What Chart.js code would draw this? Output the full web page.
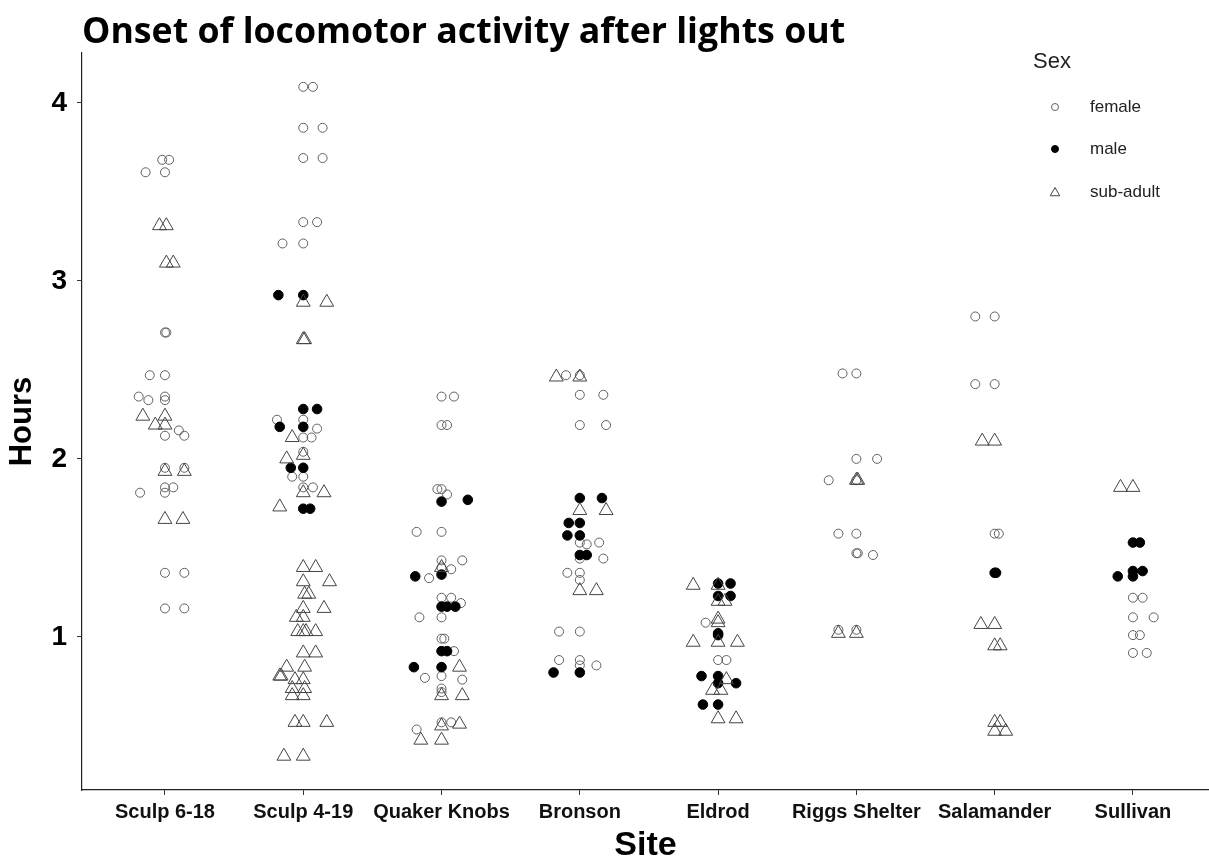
<!DOCTYPE html>
<html>
<head>
<meta charset="utf-8">
<script src="https://cdn.jsdelivr.net/npm/chart.js@4.4.1/dist/chart.umd.min.js"></script>
<style>
  html, body { margin: 0; padding: 0; background: #fff; }
  #wrap { width: 1209px; height: 859px; position: relative; }
</style>
</head>
<body>
<div id="wrap"><canvas id="chart"></canvas></div>
<script>
// sites on the x axis (1..8) and y ticks
const sites = ['Sculp 6-18', 'Sculp 4-19', 'Quaker Knobs', 'Bronson', 'Eldrod', 'Riggs Shelter', 'Salamander', 'Sullivan'];
const hourTicks = [1, 2, 3, 4];

// [site, jitter, hours]
const female = [
  [1, -0.02, 3.68], [1, 0.03, 3.68], [1, -0.14, 3.61], [1, 0, 3.61], [1, 0, 2.71], [1, 0.01, 2.71],
  [1, -0.11, 2.47], [1, 0, 2.47], [1, -0.19, 2.35], [1, 0, 2.35], [1, -0.12, 2.33], [1, 0, 2.33],
  [1, 0.10, 2.16], [1, 0.14, 2.13], [1, 0, 2.13], [1, 0, 1.95], [1, 0.14, 1.95], [1, 0, 1.84],
  [1, 0.06, 1.84], [1, -0.18, 1.81], [1, 0, 1.81], [1, 0, 1.36], [1, 0.14, 1.36], [1, 0, 1.16], [1, 0.14, 1.16],
  [2, 0, 4.09], [2, 0.07, 4.09], [2, 0, 3.86], [2, 0.14, 3.86], [2, 0, 3.69], [2, 0.14, 3.69],
  [2, 0, 3.33], [2, 0.10, 3.33], [2, -0.15, 3.21], [2, 0, 3.21], [2, -0.19, 2.22], [2, 0, 2.22],
  [2, 0.10, 2.17], [2, 0, 2.12], [2, 0.06, 2.12], [2, 0, 2.04], [2, -0.08, 1.90], [2, 0, 1.90],
  [2, 0, 1.84], [2, 0.07, 1.84],
  [3, 0, 2.35], [3, 0.09, 2.35], [3, 0, 2.19], [3, 0.04, 2.19], [3, -0.03, 1.83], [3, 0, 1.83],
  [3, 0.04, 1.80], [3, -0.18, 1.59], [3, 0, 1.59], [3, 0, 1.43], [3, 0.15, 1.43], [3, 0, 1.39],
  [3, 0.07, 1.38], [3, -0.09, 1.33], [3, 0, 1.22], [3, 0.07, 1.22], [3, 0.14, 1.19], [3, -0.16, 1.11],
  [3, 0, 1.11], [3, 0, 0.99], [3, 0.02, 0.99], [3, 0.09, 0.92], [3, 0, 0.78], [3, -0.12, 0.77],
  [3, 0.15, 0.76], [3, 0, 0.71], [3, 0, 0.69], [3, 0, 0.52], [3, 0.07, 0.52], [3, -0.18, 0.48],
  [4, -0.10, 2.47], [4, 0, 2.47], [4, 0, 2.36], [4, 0.17, 2.36], [4, 0, 2.19], [4, 0.19, 2.19],
  [4, 0, 1.53], [4, 0.14, 1.53], [4, 0.05, 1.52], [4, 0, 1.44], [4, 0.17, 1.44], [4, -0.09, 1.36],
  [4, 0, 1.36], [4, 0, 1.32], [4, -0.15, 1.03], [4, 0, 1.03], [4, -0.15, 0.87], [4, 0, 0.87],
  [4, 0, 0.84], [4, 0.12, 0.84],
  [5, -0.09, 1.08], [5, 0, 0.87], [5, 0.06, 0.87],
  [6, -0.10, 2.48], [6, 0, 2.48], [6, 0, 2.00], [6, 0.15, 2.00], [6, -0.20, 1.88], [6, 0, 1.88],
  [6, -0.13, 1.58], [6, 0, 1.58], [6, 0, 1.47], [6, 0.01, 1.47], [6, 0.12, 1.46], [6, -0.13, 1.04], [6, 0, 1.04],
  [7, -0.14, 2.80], [7, 0, 2.80], [7, -0.14, 2.42], [7, 0, 2.42], [7, 0, 1.58], [7, 0.03, 1.58],
  [8, 0, 1.22], [8, 0.07, 1.22], [8, 0, 1.11], [8, 0.15, 1.11], [8, 0, 1.01], [8, 0.05, 1.01],
  [8, 0, 0.91], [8, 0.10, 0.91]
];

const male = [
  [2, -0.18, 2.92], [2, 0, 2.92], [2, 0, 2.28], [2, 0.10, 2.28], [2, -0.17, 2.18], [2, 0, 2.18],
  [2, -0.09, 1.95], [2, 0, 1.95], [2, 0, 1.72], [2, 0.05, 1.72],
  [3, 0, 1.76], [3, 0.19, 1.77], [3, 0, 1.35], [3, -0.19, 1.34], [3, 0, 1.17], [3, 0.04, 1.17],
  [3, 0.10, 1.17], [3, 0, 0.92], [3, 0.04, 0.92], [3, -0.20, 0.83], [3, 0, 0.83],
  [4, 0, 1.78], [4, 0.16, 1.78], [4, -0.08, 1.64], [4, 0, 1.64], [4, -0.09, 1.57], [4, 0, 1.57],
  [4, 0, 1.46], [4, 0.05, 1.46], [4, -0.19, 0.80], [4, 0, 0.80],
  [5, 0, 1.30], [5, 0.09, 1.30], [5, 0, 1.23], [5, 0.09, 1.23], [5, 0, 1.02], [5, 0, 1.01],
  [5, -0.12, 0.78], [5, 0, 0.78], [5, 0, 0.74], [5, 0.13, 0.74], [5, -0.11, 0.62], [5, 0, 0.62],
  [7, 0, 1.36], [7, 0.01, 1.36],
  [8, 0, 1.53], [8, 0.05, 1.53], [8, 0, 1.37], [8, 0.07, 1.37], [8, -0.11, 1.34], [8, 0, 1.34]
];

const subAdult = [
  [1, -0.04, 3.31], [1, 0.01, 3.31], [1, 0.01, 3.10], [1, 0.06, 3.10], [1, -0.16, 2.24], [1, 0, 2.24],
  [1, -0.07, 2.19], [1, 0, 2.19], [1, 0, 1.93], [1, 0.14, 1.93], [1, 0, 1.66], [1, 0.13, 1.66],
  [2, 0, 2.88], [2, 0.17, 2.88], [2, 0, 2.67], [2, 0.01, 2.67], [2, -0.08, 2.12], [2, -0.12, 2.00],
  [2, 0, 2.02], [2, 0, 1.81], [2, 0.15, 1.81], [2, -0.17, 1.73], [2, 0, 1.39], [2, 0.09, 1.39],
  [2, 0, 1.31], [2, 0.19, 1.31], [2, 0.01, 1.24], [2, 0.04, 1.24], [2, 0, 1.16], [2, 0.15, 1.16],
  [2, -0.05, 1.11], [2, 0, 1.11], [2, -0.04, 1.03], [2, 0, 1.03], [2, 0.02, 1.03], [2, 0.09, 1.03],
  [2, 0, 0.91], [2, 0.09, 0.91], [2, -0.12, 0.83], [2, 0.01, 0.83], [2, -0.17, 0.78], [2, -0.16, 0.78],
  [2, -0.06, 0.76], [2, 0, 0.76], [2, -0.08, 0.71], [2, 0.01, 0.71], [2, -0.08, 0.67], [2, 0, 0.67],
  [2, -0.06, 0.52], [2, 0, 0.52], [2, 0.17, 0.52], [2, -0.14, 0.33], [2, 0, 0.33],
  [3, 0, 1.39], [3, 0.13, 0.83], [3, 0, 0.67], [3, 0.15, 0.67], [3, 0, 0.50], [3, 0.13, 0.51],
  [3, -0.15, 0.42], [3, 0, 0.42],
  [4, -0.17, 2.46], [4, 0, 2.46], [4, 0, 1.71], [4, 0.19, 1.71], [4, 0, 1.26], [4, 0.12, 1.26],
  [5, -0.18, 1.29], [5, 0, 1.29], [5, 0, 1.20], [5, 0.05, 1.20], [5, 0, 1.08], [5, 0, 1.10],
  [5, -0.18, 0.97], [5, 0, 0.97], [5, 0.14, 0.97], [5, 0.06, 0.76], [5, -0.04, 0.70], [5, 0.02, 0.70],
  [5, 0, 0.54], [5, 0.13, 0.54],
  [6, 0, 1.88], [6, 0.01, 1.88], [6, -0.13, 1.02], [6, 0, 1.02],
  [7, -0.09, 2.10], [7, 0, 2.10], [7, -0.10, 1.07], [7, 0, 1.07], [7, 0, 0.95], [7, 0.04, 0.95],
  [7, 0, 0.52], [7, 0.04, 0.52], [7, 0, 0.47], [7, 0.08, 0.47],
  [8, -0.09, 1.84], [8, 0, 1.84]
];

const toPoints = rows => rows.map(([s, j, h]) => ({ x: s + j, y: h }));

// title + legend drawn on the canvas
const decorations = {
  id: 'decorations',
  afterDraw(chart) {
    const ctx = chart.ctx;
    ctx.save();
    // title, fitted to the width seen in the reference
    const title = 'Onset of locomotor activity after lights out';
    ctx.font = '700 32px "Open Sans"';
    const size = 32 * 763 / ctx.measureText(title).width;
    ctx.font = `700 ${size.toFixed(1)}px "Open Sans"`;
    ctx.fillStyle = '#000';
    ctx.textBaseline = 'alphabetic';
    ctx.textAlign = 'left';
    ctx.fillText(title, 82, 43);

    // legend
    ctx.font = '22px "Liberation Sans"';
    ctx.fillStyle = '#222';
    ctx.textBaseline = 'middle';
    ctx.fillText('Sex', 1033, 62);
    ctx.font = '17px "Liberation Sans"';
    const rowsY = [107, 149, 192];
    chart.data.datasets.forEach((ds, i) => {
      const y = rowsY[i];
      ctx.beginPath();
      ctx.lineWidth = 1;
      if (ds.pointStyle === 'triangle') {
        const r = 5.5;
        for (let k = 0; k < 3; k++) {
          const a = k * 2 * Math.PI / 3;
          const px = 1055 + Math.sin(a) * r, py = y + 1 - Math.cos(a) * r;
          k === 0 ? ctx.moveTo(px, py) : ctx.lineTo(px, py);
        }
        ctx.closePath();
      } else {
        ctx.arc(1055, y, 3.5, 0, Math.PI * 2);
      }
      if (ds.legendFill) { ctx.fillStyle = ds.legendFill; ctx.fill(); }
      ctx.strokeStyle = ds.borderColor;
      ctx.stroke();
      ctx.fillStyle = '#222';
      ctx.fillText(ds.label, 1090, y);
    });
    ctx.restore();
  }
};

new Chart(document.getElementById('chart'), {
  type: 'scatter',
  data: {
    datasets: [
      { label: 'female', data: toPoints(female), pointStyle: 'circle', pointRadius: 4.5,
        borderColor: '#606060', backgroundColor: 'rgba(0,0,0,0)', borderWidth: 1, legendFill: null, order: 3 },
      { label: 'male', data: toPoints(male), pointStyle: 'circle', pointRadius: 4.8,
        borderColor: '#000', backgroundColor: '#000', borderWidth: 1, legendFill: '#000', order: 2 },
      { label: 'sub-adult', data: toPoints(subAdult), pointStyle: 'triangle', pointRadius: 8,
        borderColor: '#444', backgroundColor: 'rgba(0,0,0,0)', borderWidth: 1, legendFill: null, order: 1 }
    ]
  },
  options: {
    responsive: true,
    maintainAspectRatio: false,
    animation: false,
    layout: { autoPadding: false, padding: { top: 53, right: 0, left: 0, bottom: 0 } },
    plugins: { legend: { display: false }, tooltip: { enabled: false }, title: { display: false } },
    scales: {
      x: {
        type: 'linear',
        min: 0.4,
        max: 8.55,
        afterFit: s => { s.height = 69; },
        afterBuildTicks: s => { s.ticks = sites.map((_, i) => ({ value: i + 1 })); },
        grid: { drawOnChartArea: false, drawTicks: true, tickLength: 5, color: '#333' },
        border: { display: true, color: '#222', width: 1.2 },
        ticks: {
          autoSkip: false, maxRotation: 0, padding: 5, color: '#111',
          font: { family: '"Liberation Sans"', size: 20, weight: 'bold' },
          callback: v => sites[Math.round(v) - 1]
        },
        title: {
          display: true, text: 'Site', color: '#000',
          font: { family: '"Liberation Sans"', size: 34, weight: 'bold', lineHeight: 0.8 },
          padding: { top: 0, bottom: 0 }
        }
      },
      y: {
        min: 0.14,
        max: 4.28,
        afterFit: s => { s.width = 82; },
        afterBuildTicks: s => { s.ticks = hourTicks.map(v => ({ value: v })); },
        grid: { drawOnChartArea: false, drawTicks: true, tickLength: 5, color: '#333' },
        border: { display: true, color: '#222', width: 1.2 },
        ticks: {
          padding: 10, color: '#000',
          font: { family: '"Liberation Sans"', size: 28, weight: 'bold' }
        },
        title: {
          display: true, text: 'Hours', color: '#000',
          font: { family: '"Liberation Sans"', size: 31, weight: 'bold', lineHeight: 1.2 },
          padding: { top: 4, bottom: 0 }
        }
      }
    }
  },
  plugins: [decorations]
});
</script>
</body>
</html>
